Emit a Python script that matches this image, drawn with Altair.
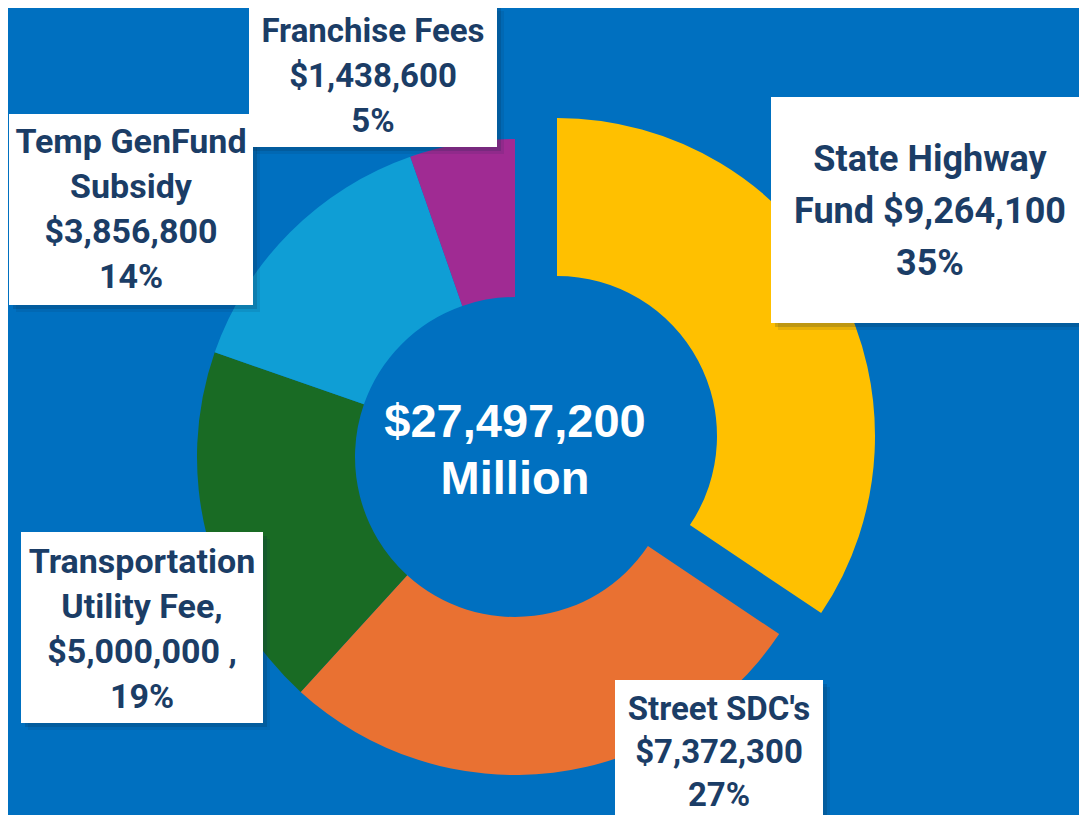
import altair as alt
import pandas as pd

# ---- data ----
categories = ["State Highway Fund", "Street SDC's", "Transportation Utility Fee",
              "Temp GenFund Subsidy", "Franchise Fees"]
values = [9264100, 7372300, 5000000, 3856800, 1438600]
colors = ["#FFC000", "#E97132", "#196B24", "#0F9ED5", "#A02B93"]
label_lines = [
    ["State Highway", "Fund $9,264,100", "35%"],
    ["Street SDC's", "$7,372,300", "27%"],
    ["Transportation", "Utility Fee,", "$5,000,000 ,", "19%"],
    ["Temp GenFund", "Subsidy", "$3,856,800", "14%"],
    ["Franchise Fees", "$1,438,600", "5%"],
]
center_lines = ["$27,497,200", "Million"]
exploded = "State Highway Fund"

df = pd.DataFrame({"name": categories, "value": values, "idx": list(range(len(categories)))})

BG = "#0070C0"
NAVY = "#1B3D66"
W, H = 1071, 807
CX, CY = 507, 449
EX, EY = 549, 428

base = alt.Chart(df)

def ring(cx, cy, show_exploded):
    cond = f"datum.name === '{exploded}'"
    op = alt.condition(cond, alt.value(1 if show_exploded else 0), alt.value(0 if show_exploded else 1))
    return base.mark_arc(innerRadius=160, outerRadius=318, x=cx, y=cy).encode(
        theta=alt.Theta("value:Q", stack=True),
        order=alt.Order("idx:Q"),
        color=alt.Color("name:N", scale=alt.Scale(domain=categories, range=colors), legend=None),
        opacity=op,
    )

layers = [ring(CX, CY, False), ring(EX, EY, True)]

one = alt.Chart(pd.DataFrame({"a": [0]}))

# label boxes: (x1, x2, y1, y2, text cx, first-line y, fontsize, lineheight)
boxes = [
    (763, 1085, 89, 315, 922, 152, 36, 52),
    (607, 815, 672, 830, 711, 702, 33, 43),
    (13, 255, 524, 715, 134, 555, 34, 45),
    (1, 245, 106, 297, 123, 135, 34, 45),
    (241, 489, -4, 139, 365, 24, 33, 45),
]

for lines, (x1, x2, y1, y2, tx, ty, fs, lh) in zip(label_lines, boxes):
    for off, opa in [(7, 0.10), (4, 0.18)]:
        layers.append(one.mark_rect(color="#0a2540", opacity=opa).encode(
            x=alt.value(x1 + off), x2=alt.value(x2 + off),
            y=alt.value(y1 + off), y2=alt.value(y2 + off)))
    layers.append(one.mark_rect(color="white").encode(
        x=alt.value(x1), x2=alt.value(x2), y=alt.value(y1), y2=alt.value(y2)))
    layers.append(one.mark_text(font="Roboto", fontSize=fs, fontWeight="bold", color=NAVY,
                                align="center", baseline="middle", lineHeight=lh).encode(
        x=alt.value(tx), y=alt.value(ty), text=alt.value(lines)))

layers.append(one.mark_text(font="Liberation Sans", fontSize=47, fontWeight="bold", color="white",
                            align="center", baseline="middle", lineHeight=57).encode(
    x=alt.value(CX), y=alt.value(415), text=alt.value(center_lines)))

chart = alt.layer(*layers).properties(
    width=W, height=H, background=BG, padding=0,
    autosize=alt.AutoSizeParams(type="none"),
).configure_view(stroke=None)

chart.save("out.html", embed_options={"renderer": "svg", "actions": False})
